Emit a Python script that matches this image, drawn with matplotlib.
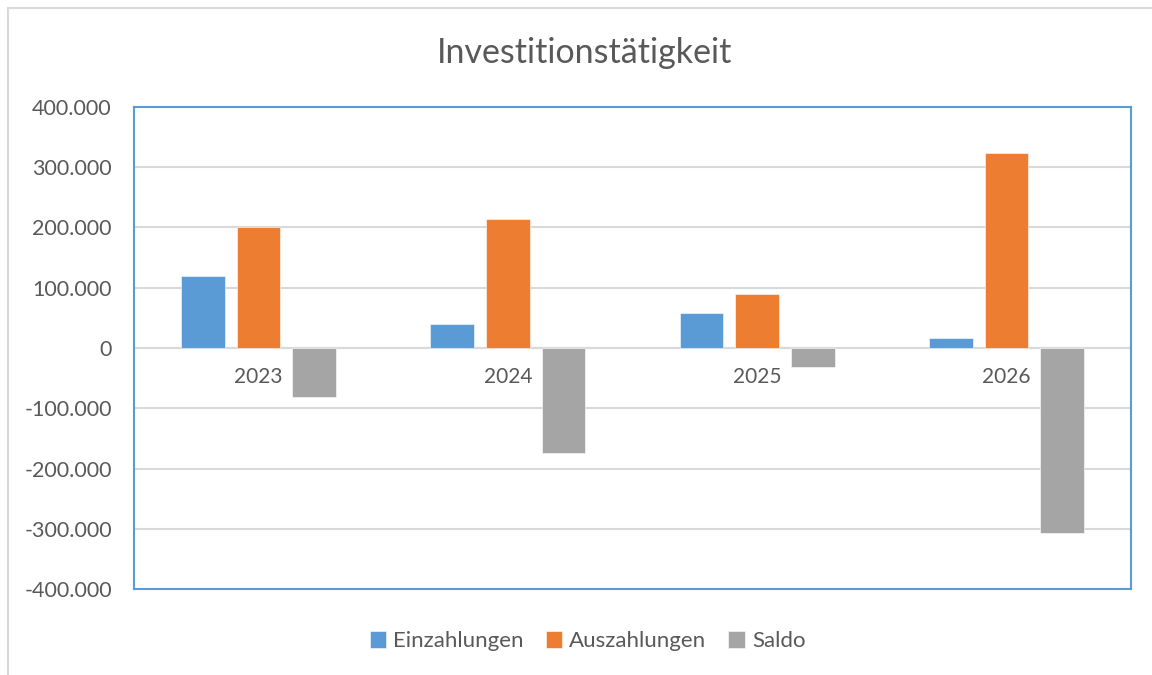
import numpy as np
import matplotlib.pyplot as plt
from matplotlib.patches import Rectangle
from matplotlib.ticker import FuncFormatter

# values (EUR)
years = ["2023", "2024", "2025", "2026"]
einzahlungen = [120000, 40000, 58000, 16000]
auszahlungen = [200000, 214000, 90000, 323000]
saldo = [-81000, -174000, -32000, -307000]
series_names = ["Einzahlungen", "Auszahlungen", "Saldo"]
y_ticks = [-400000, -300000, -200000, -100000, 0, 100000, 200000, 300000, 400000]

COLORS = ["#5B9BD5", "#ED7D31", "#A5A5A5"]
TEXT = "#595959"
GRID = "#D9D9D9"

plt.rcParams["font.family"] = ["Lato", "DejaVu Sans"]

fig = plt.figure(figsize=(11.52, 6.75), dpi=100)
ax = fig.add_axes([0.1163, 0.1274, 0.8655, 0.7141])

# outer chart frame (left and top edges visible)
fig.patches.append(Rectangle((8 / 1152, -0.2), 1.1, 1.2 - 8 / 675,
                             transform=fig.transFigure, fill=False,
                             edgecolor=GRID, linewidth=1.5))

x = np.arange(len(years))
width, step = 0.175, 0.223
for j, (vals, name) in enumerate(zip([einzahlungen, auszahlungen, saldo], series_names)):
    ax.bar(x + (j - 1) * step, vals, width, color=COLORS[j], label=name,
           edgecolor="white", linewidth=0.4, zorder=3)

ax.set_xlim(-0.5, len(years) - 0.5)
ax.set_ylim(-400000, 400000)
ax.set_yticks(y_ticks)
ax.yaxis.set_major_formatter(FuncFormatter(lambda v, _: f"{v:,.0f}".replace(",", ".")))
ax.tick_params(axis="y", length=0, pad=16, labelsize=15.5, labelcolor=TEXT)
ax.set_xticks([])
ax.grid(axis="y", color=GRID, linewidth=1.5, zorder=0)
ax.axhline(0, color=GRID, linewidth=1.5, zorder=1)

for s in ax.spines.values():
    s.set_color("#5B9BD5")
    s.set_linewidth(1.5)

# category labels sit just below the zero line
for xi, yr in zip(x, years):
    ax.annotate(yr, (xi, 0), xytext=(0, -14), textcoords="offset points",
                ha="center", va="top", fontsize=15, color=TEXT)

fig.text(0.507, 0.921, "Investitionstätigkeit", ha="center", va="center",
         fontsize=24.5, color=TEXT)

fig.legend(loc="center", bbox_to_anchor=(0.51, 0.05), ncol=3, frameon=False,
           fontsize=16, labelcolor=TEXT, handlelength=0.75, handleheight=0.75,
           handletextpad=0.3, columnspacing=1.0)

fig.savefig("out.png", dpi=100)
